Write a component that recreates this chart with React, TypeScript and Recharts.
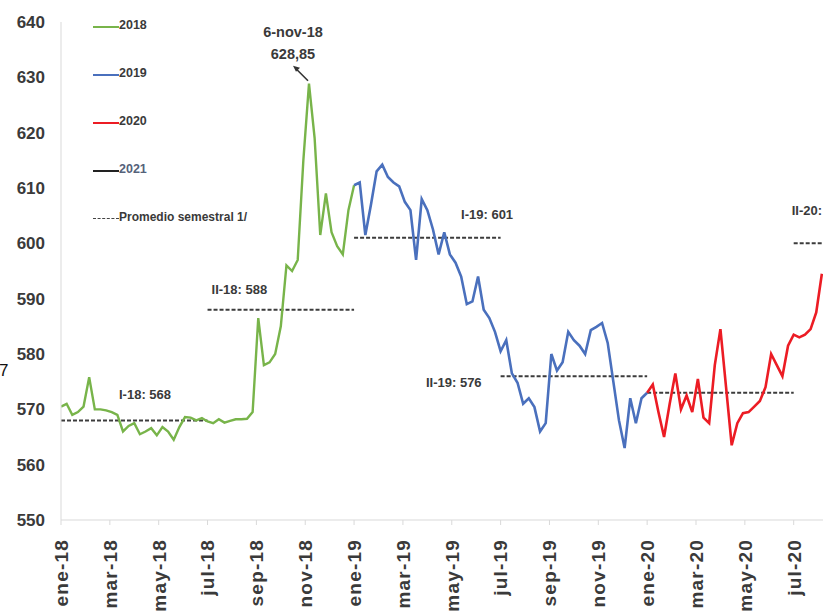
import React from "react";
import { LineChart, Line, XAxis, YAxis, ReferenceLine, ReferenceDot } from "recharts";

// Weekly readings, the x axis counts weeks from 1 Jan 2018.
const tickLabels = [
  "ene-18", "mar-18", "may-18", "jul-18", "sep-18", "nov-18",
  "ene-19", "mar-19", "may-19", "jul-19", "sep-19", "nov-19",
  "ene-20", "mar-20", "may-20", "jul-20",
];

const s2018 = [
  570.5, 571, 569, 569.5, 570.5, 575.8, 570, 570, 569.8, 569.5,
  569, 566, 567, 567.5, 565.5, 566, 566.6, 565.3, 566.8, 566,
  564.5, 566.8, 568.6, 568.5, 568, 568.4, 567.8, 567.5, 568.2, 567.6,
  567.9, 568.2, 568.2, 568.3, 569.5, 586.5, 578, 578.5, 580, 585,
  596, 595, 597, 615, 628.85, 619, 601.5, 609, 602, 599.5,
  598, 606,
];
const s2019 = [
  610.5, 611, 601.5, 607, 613, 614.2, 612, 611, 610.3, 607.5,
  606, 597, 608, 606, 602.5, 598, 602, 598, 596.5, 594,
  589, 589.5, 594, 588, 586.5, 584, 580.5, 582.5, 576.5, 574.8,
  571, 572, 570.4, 566, 567.5, 580, 577, 578.5, 584, 582.5,
  581.5, 580, 584.3, 584.9, 585.6, 582, 575, 568, 563, 572,
  567.5, 572,
];
const s2020 = [
  573, 574.5, 569.5, 565, 571, 576.5, 570, 572.5, 569.5, 575.5,
  568.5, 567.5, 578, 584.5, 574, 563.5, 567.5, 569.3, 569.5, 570.5,
  571.5, 574, 580, 578, 576, 581.5, 583.5, 583, 583.5, 584.5,
  587.5, 594.5,
];

const seriesNames = ["2018", "2019", "2020", "2021"];
const avgNames = ["I-18", "II-18", "I-19", "II-19", "I-20", "II-20"];
const avgValues = [568, 588, 601, 576, 573, 600];
const peakDate = "6-nov-18";
const peakText = "628,85";
const averageLegend = "Promedio semestral 1/";

const GREEN = "#78b44a";
const BLUE = "#4a70bd";
const RED = "#ec1c24";
const DARK = "#222222";
const AXIS = "#d9d9d9";
const TEXT = "#3a3a3a";
const FONT = "'Liberation Sans', Arial, sans-serif";

const W = 823;
const H = 616;
const WPM = 52 / 12;
const X_MAX = 135.2;
const tickWeeks = tickLabels.map((_, i) => i * 2 * WPM);

// join each year onto the first value of the next so the line has no gap
const rows = Array.from({ length: s2018.length + s2019.length + s2020.length }, (_, w) => ({
  w,
  y18: w < 52 ? s2018[w] : w === 52 ? s2019[0] : undefined,
  y19: w >= 52 && w < 104 ? s2019[w - 52] : w === 104 ? s2020[0] : undefined,
  y20: w >= 104 ? s2020[w - 104] : undefined,
}));

const peakWeek = s2018.indexOf(Math.max(...s2018));

// where each semester label sits relative to the start of its dashed line
const avgLabelPos: ({ dx: number; dy: number; anchor: string } | null)[] = [
  { dx: 58, dy: -21, anchor: "start" },
  { dx: 4, dy: -16, anchor: "start" },
  { dx: 107, dy: -19, anchor: "start" },
  { dx: -19, dy: 11, anchor: "end" },
  null,
  { dx: -2, dy: -28, anchor: "start" },
];

const XTick = (props: any) => {
  const { x, y, payload } = props;
  const i = tickWeeks.findIndex((t) => Math.abs(t - payload.value) < 0.01);
  return (
    <g transform={`translate(${x},${y + 12})`}>
      <text transform="rotate(-90)" textAnchor="end" dy="0.36em" fill={TEXT}
        fontSize={19} fontWeight={700} fontFamily={FONT} letterSpacing={1.2}>
        {tickLabels[i]}
      </text>
    </g>
  );
};

const legendColors = [GREEN, BLUE, RED, DARK];

export default function App() {
  return (
    <div style={{ position: "absolute", left: 0, top: 0, width: W, height: H, background: "#fff", overflow: "hidden" }}>
      <LineChart width={W} height={H} data={rows} margin={{ top: 22, right: 0, left: 0, bottom: 0 }}>
        <XAxis dataKey="w" type="number" domain={[0, X_MAX]} ticks={tickWeeks} interval={0}
          allowDataOverflow height={96} tick={<XTick />}
          axisLine={{ stroke: AXIS }} tickLine={{ stroke: AXIS }} tickSize={5} />
        <YAxis type="number" domain={[550, 640]} ticks={[550, 560, 570, 580, 590, 600, 610, 620, 630, 640]}
          width={61} axisLine={{ stroke: AXIS }} tickLine={false} tickSize={0} tickMargin={16}
          tick={{ fill: TEXT, fontSize: 17, fontWeight: 700, fontFamily: FONT }} />
        {avgValues.map((v, i) => {
          const start = i * 26;
          const end = Math.min(start + 26, X_MAX);
          return (
            <ReferenceLine key={avgNames[i]} segment={[{ x: start, y: v }, { x: end, y: v }]}
              stroke="#3c3c3c" strokeWidth={2} strokeDasharray="4 2" ifOverflow="visible" />
          );
        })}
        <Line dataKey="y18" stroke={GREEN} strokeWidth={2.4} dot={false} isAnimationActive={false} connectNulls={false} />
        <Line dataKey="y19" stroke={BLUE} strokeWidth={2.6} dot={false} isAnimationActive={false} connectNulls={false} />
        <Line dataKey="y20" stroke={RED} strokeWidth={2.6} dot={false} isAnimationActive={false} connectNulls={false} />
        {avgValues.map((v, i) => {
          const pos = avgLabelPos[i];
          if (!pos) return null;
          return (
            <ReferenceDot key={"l" + avgNames[i]} x={i * 26} y={v} r={0} ifOverflow="visible"
              shape={(p: any) => (
                <text x={p.cx + pos.dx} y={p.cy + pos.dy} textAnchor={pos.anchor as any}
                  fill={TEXT} fontSize={13} fontWeight={700} fontFamily={FONT}>
                  {`${avgNames[i]}: ${v}`}
                </text>
              )} />
          );
        })}
        <ReferenceDot x={peakWeek} y={s2018[peakWeek]} r={0} ifOverflow="visible"
          shape={(p: any) => (
            <g>
              <line x1={p.cx - 1} y1={p.cy - 3} x2={p.cx - 12} y2={p.cy - 14} stroke="#333" strokeWidth={1.6} />
              <path d={`M${p.cx - 16},${p.cy - 18} l7,2 l-4,4 z`} fill="#333" />
              <text x={p.cx - 16} y={p.cy - 47} textAnchor="middle" fill={TEXT} fontSize={14.5}
                fontWeight={700} fontFamily={FONT}>{peakDate}</text>
              <text x={p.cx - 16} y={p.cy - 25} textAnchor="middle" fill={TEXT} fontSize={14.5}
                fontWeight={700} fontFamily={FONT}>{peakText}</text>
            </g>
          )} />
      </LineChart>

      <div style={{ position: "absolute", left: 93, top: 18, fontFamily: FONT, fontWeight: 700, color: TEXT }}>
        {seriesNames.map((n, i) => (
          <div key={n} style={{ height: 48, display: "flex", alignItems: "flex-start", fontSize: 12.5 }}>
            <span style={{ display: "inline-block", width: 26, height: 2.5, background: legendColors[i], marginTop: 7.5 }} />
            <span style={{ color: i === 3 ? "#55627a" : TEXT }}>{n}</span>
          </div>
        ))}
        <div style={{ display: "flex", alignItems: "flex-start", fontSize: 12 }}>
          <span style={{ display: "inline-block", width: 26, borderTop: "1.5px dashed #444", marginTop: 7.5 }} />
          <span>{averageLegend}</span>
        </div>
      </div>

      <div style={{ position: "absolute", left: -1, top: 361, fontFamily: FONT, fontSize: 17, color: "#111" }}>7</div>
    </div>
  );
}
